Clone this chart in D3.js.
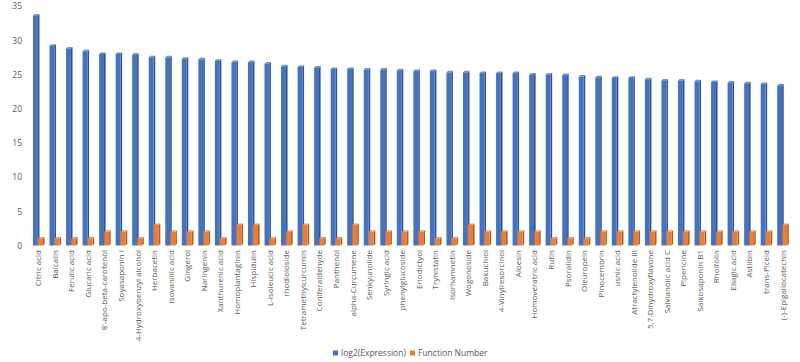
<!DOCTYPE html>
<html>
<head>
<meta charset="utf-8">
<script src="https://cdn.jsdelivr.net/npm/d3@7"></script>
<style>
  body { margin: 0; background: #fff; }
  #chart { width: 800px; height: 362px; }
  text { font-family: "Open Sans", sans-serif; fill: #595959; }
</style>
</head>
<body>
<div id="chart"></div>
<script>
const compounds = [
  "Citric acid", "Baicalin", "Ferulic acid", "Glucaric acid", "8'-apo-beta-carotenol",
  "Soyasaponin I", "4-Hydroxybenzyl alcohol", "Herbacetin", "Isovanillic acid", "Gingerol",
  "Naringenin", "Xanthurenic acid", "Homoplantaginin", "Hispidulin", "L-Isoleucic acid",
  "rhodioloside", "Tetramethylcurcumin", "Coniferaldehyde", "Panthenol", "alpha-Curcumene",
  "Senkyunolide", "Syringic acid", "phenylglucoside", "Eriodictyol", "Tryhistatin",
  "Isorhamnetin", "Wogonoside", "Bakuchiol", "4-Vinylresorcinol", "Aloesin",
  "Homoveratric acid", "Rutin", "Psoralidin", "Oleuropein", "Pinocembrin",
  "usnic acid", "Atractylenolide III", "5,7-Dihydroxyflavone", "Salvianolic acid C", "Pipericine",
  "Saikosaponin B1", "Rhoifolin", "Ellagic acid", "Astilbin", "trans-Piceid",
  "(-)-Epigallocatechin"
];

const log2Expression = [
  33.6, 29.2, 28.8, 28.4, 28.0, 28.0, 27.9, 27.5, 27.5, 27.3,
  27.2, 27.0, 26.8, 26.8, 26.6, 26.2, 26.1, 26.0, 25.8, 25.8,
  25.7, 25.7, 25.6, 25.5, 25.5, 25.3, 25.3, 25.2, 25.2, 25.2,
  25.0, 25.0, 24.9, 24.7, 24.6, 24.5, 24.5, 24.3, 24.1, 24.1,
  24.0, 23.9, 23.8, 23.7, 23.6, 23.4
];

const functionNumber = [
  1, 1, 1, 1, 2, 2, 1, 3, 2, 2,
  2, 1, 3, 3, 1, 2, 3, 1, 1, 3,
  2, 2, 2, 2, 1, 1, 3, 2, 2, 2,
  2, 1, 1, 1, 2, 2, 2, 2, 2, 2,
  2, 2, 2, 2, 2, 3
];

const yTicks = [0, 5, 10, 15, 20, 25, 30, 35];
const seriesNames = ["log2(Expression)", "Function Number"];

const width = 800, height = 362;

const colors = {
  "log2(Expression)": { front: "#4472C4", side: "#2F528F", top: "#6A8FD3" },
  "Function Number": { front: "#ED7D31", side: "#AE5A21", top: "#F29A5E" }
};

const data = compounds.map((c, i) => ({
  name: c,
  values: [
    { key: seriesNames[0], value: log2Expression[i] },
    { key: seriesNames[1], value: functionNumber[i] }
  ]
}));

const svg = d3.select("#chart")
  .append("svg")
  .attr("width", width)
  .attr("height", height);

// scales
const x = d3.scaleBand()
  .domain(compounds)
  .range([30.2, 791.0])
  .padding(0);

const xSub = d3.scaleBand()
  .domain(seriesNames)
  .range([-5.5, 4.5])
  .paddingInner(0.05);

const y = d3.scaleLinear()
  .domain([0, 35])
  .range([245.5, 6.1]);

const depth = 1.6;

// y axis labels (no line)
const yAxis = svg.append("g")
  .attr("transform", "translate(22,0)")
  .call(d3.axisLeft(y).tickValues(yTicks).tickSize(0).tickPadding(0));
yAxis.select(".domain").remove();
yAxis.selectAll("text")
  .style("font-family", "'Open Sans', sans-serif")
  .style("font-size", "8.5px")
  .attr("fill", "#595959");

// bars
const groups = svg.append("g")
  .selectAll("g")
  .data(data)
  .enter()
  .append("g")
  .attr("transform", d => "translate(" + (x(d.name) + x.bandwidth() / 2) + ",0)");

const bars = groups.selectAll("g.bar")
  .data(d => d.values)
  .enter()
  .append("g")
  .attr("class", "bar");

// side face
bars.append("path")
  .attr("d", d => {
    const x1 = xSub(d.key) + xSub.bandwidth();
    const yt = y(d.value), yb = y(0);
    return "M" + x1 + "," + yt + " L" + (x1 + depth) + "," + (yt - depth) +
      " L" + (x1 + depth) + "," + (yb - depth) + " L" + x1 + "," + yb + "Z";
  })
  .attr("fill", d => colors[d.key].side);

// top face
bars.append("path")
  .attr("d", d => {
    const x0 = xSub(d.key), x1 = x0 + xSub.bandwidth();
    const yt = y(d.value);
    return "M" + x0 + "," + yt + " L" + (x0 + depth) + "," + (yt - depth) +
      " L" + (x1 + depth) + "," + (yt - depth) + " L" + x1 + "," + yt + "Z";
  })
  .attr("fill", d => colors[d.key].top);

// front face
bars.append("rect")
  .attr("x", d => xSub(d.key))
  .attr("y", d => y(d.value))
  .attr("width", xSub.bandwidth())
  .attr("height", d => y(0) - y(d.value))
  .attr("fill", d => colors[d.key].front);

// category labels
const xAxis = svg.append("g")
  .attr("transform", "translate(0,250)")
  .call(d3.axisBottom(x).tickSize(0).tickPadding(0));
xAxis.select(".domain").remove();
xAxis.selectAll("text")
  .style("font-family", "'Open Sans', sans-serif")
  .style("font-size", "8px")
  .attr("fill", "#595959")
  .attr("transform", "rotate(-90)")
  .attr("x", 0)
  .attr("y", 0)
  .attr("dx", "0")
  .attr("dy", "0.35em")
  .style("text-anchor", "end");

// legend
const legend = svg.append("g")
  .attr("transform", "translate(333,353)");

const legendItems = legend.selectAll("g")
  .data(seriesNames)
  .enter()
  .append("g")
  .attr("transform", (d, i) => "translate(" + (i * 77) + ",0)");

legendItems.append("rect")
  .attr("x", 0)
  .attr("y", -2.5)
  .attr("width", 5)
  .attr("height", 5)
  .attr("fill", d => colors[d].front);

legendItems.append("text")
  .attr("x", 8)
  .attr("y", 0)
  .attr("dy", "0.35em")
  .style("font-size", "8.5px")
  .text(d => d);
</script>
</body>
</html>
